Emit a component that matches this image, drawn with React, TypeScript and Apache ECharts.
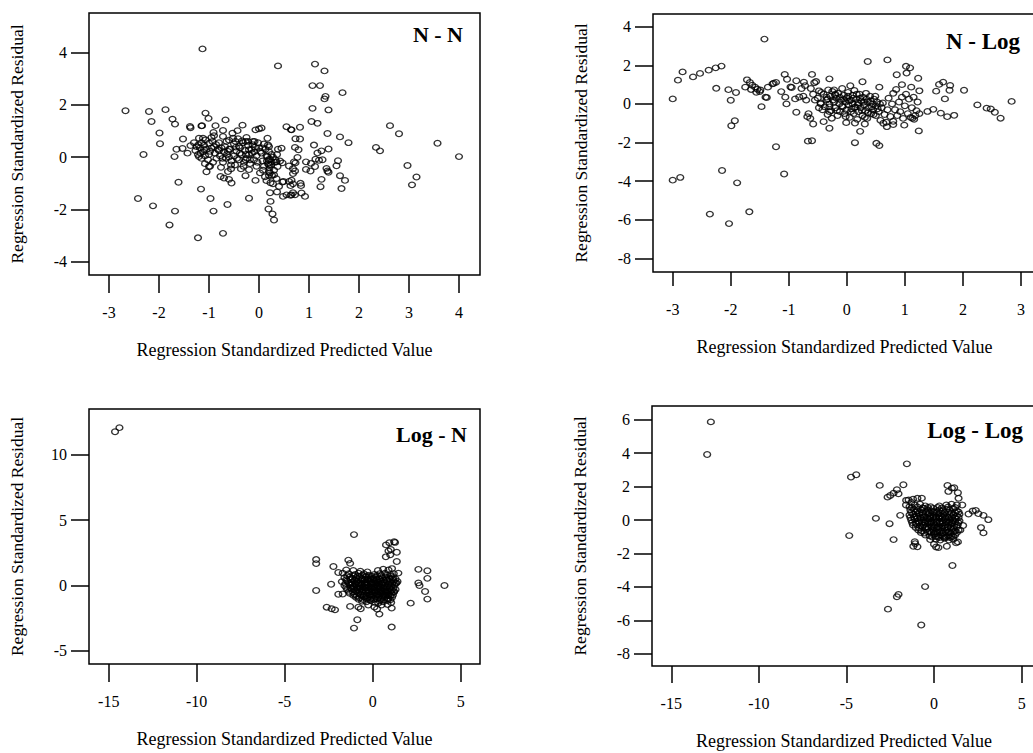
import React, { useEffect, useRef } from "react";
import * as echarts from "echarts";

const FONT = "'Liberation Serif', 'Times New Roman', serif";

const panelTitles = ["N - N", "N - Log", "Log - N", "Log - Log"];
const xName = "Regression Standardized Predicted Value";
const yName = "Regression Standardized Residual";

const xTicksNN = [-3, -2, -1, 0, 1, 2, 3, 4];
const yTicksNN = [-4, -2, 0, 2, 4];
const xTicksNLog = [-3, -2, -1, 0, 1, 2, 3];
const yTicksNLog = [-8, -6, -4, -2, 0, 2, 4];
const xTicksLogN = [-15, -10, -5, 0, 5];
const yTicksLogN = [-5, 0, 5, 10];
const xTicksLogLog = [-15, -10, -5, 0, 5];
const yTicksLogLog = [-8, -6, -4, -2, 0, 2, 4, 6];

const dataNN: number[][] = [
  [-2.67, 1.77], [-2.2, 1.74], [-2.15, 1.36], [-1.87, 1.81], [-1.73, 1.45], [-1.68, 1.26],
  [-1.99, 0.92], [-1.98, 0.51], [-2.31, 0.1], [-1.69, 0.02], [-1.65, 0.3], [-1.52, 0.69],
  [-1.53, 0.33], [-1.61, -0.96], [-2.42, -1.58], [-2.12, -1.86], [-1.68, -2.06], [-1.79, -2.59],
  [-1.22, -3.08], [-1.13, 4.13], [-1.38, 1.17], [-1.37, 1.12], [-1.37, 0.44], [-1.43, 0.15],
  [-1.15, 1.19], [-1.14, 1.2], [-1.07, 1.68], [-1.01, 1.48], [-0.87, 1.2], [-0.67, 1.42],
  [-0.91, 0.94], [-0.9, 0.82], [-1.2, 0.72], [-1.07, 0.66], [-1.21, 0.47], [-1.27, 0.25],
  [-1.17, 0.15], [-1.1, 0.28], [-1.0, 0.53], [-0.95, 0.35], [-1.02, -0.1], [-1.05, -0.56],
  [-1.0, -0.36], [-1.16, -1.22], [-0.97, -1.58], [-0.91, -2.06], [-0.63, -1.81], [-0.72, -2.91],
  [-0.76, -0.39], [-0.77, -0.74], [-0.7, -0.8], [-0.55, -0.99], [-0.56, -0.45], [-0.72, 0.79],
  [-0.72, 1.02], [-0.53, 0.91], [-0.43, 1.01], [-0.33, 1.22], [-0.47, 0.6], [-0.4, 0.41],
  [-0.6, 0.3], [-0.8, 0.25], [-0.27, 0.6], [-0.2, 0.28], [-0.07, 1.04], [0.0, 1.08],
  [0.05, 1.11], [-0.13, 0.47], [-0.09, 0.6], [0.07, 0.35], [-0.27, -0.1], [-0.2, -0.48],
  [-0.27, -0.71], [-0.07, -0.89], [-0.2, -1.57], [0.17, 0.72], [0.18, 0.46], [0.2, 0.21],
  [0.19, -0.1], [0.17, 0.02], [0.2, -0.3], [0.1, -0.35], [0.23, -0.98], [0.22, -0.6],
  [0.28, -1.02], [0.4, -1.12], [0.33, -0.1], [0.37, -0.36], [0.35, -0.18], [0.38, 0.3],
  [-1.3, 0.55], [-1.22, 0.1], [-1.18, 0.35], [-1.12, 0.2], [-1.2, 0.02], [-1.15, -0.05],
  [-1.1, 0.45], [-1.05, 0.3], [-1.0, 0.1], [-1.08, -0.25], [-0.98, -0.35], [-0.95, 0.75],
  [-0.93, 0.6], [-1.12, 0.72], [-0.9, 0.4], [-0.88, 0.15], [-0.85, -0.05], [-0.82, 0.3],
  [-0.8, 0.55], [-0.78, 0.05], [-0.72, -0.2], [-0.7, 0.2], [-0.68, 0.4], [-0.66, -0.05],
  [-0.64, 0.1], [-0.62, -0.55], [-0.6, 0.65], [-0.6, -0.85], [-0.58, 0.3], [-0.55, -0.15],
  [-0.5, 0.5], [-0.5, 0.05], [-0.48, -0.3], [-0.45, 0.22], [-0.42, 0.7], [-0.4, -0.1],
  [-0.38, 0.35], [-0.36, -0.45], [-0.35, 0.1], [-0.32, 0.55], [-0.3, -0.2], [-0.28, 0.25],
  [-0.25, 0.75], [-0.24, -0.05], [-0.22, 0.45], [-0.2, 0.1], [-0.18, -0.25], [-0.15, 0.3],
  [-0.12, 0.6], [-0.1, -0.1], [-0.1, 0.2], [-0.05, -0.35], [-0.05, 0.05], [0.0, 0.35],
  [0.02, -0.6], [0.05, 0.15], [0.07, -0.15], [0.1, 0.5], [0.12, -0.75], [0.15, 0.05],
  [0.18, -0.25], [0.2, -0.55], [0.2, 0.4], [0.22, -0.08], [0.24, -0.3], [0.25, 0.1],
  [0.26, -0.7], [0.28, 0.0], [0.3, -0.5], [0.32, -0.2], [0.35, -0.82], [0.36, 0.1],
  [-1.25, 0.4], [-1.15, 0.55], [-1.08, 0.05], [-0.98, 0.22], [-0.92, -0.2], [-0.86, 0.48],
  [-0.75, 0.35], [-0.73, -0.05], [-0.65, 0.6], [-0.62, 0.22], [-0.56, -0.3], [-0.52, 0.72],
  [-0.46, 0.38], [-0.44, -0.05], [-0.38, 0.15], [-0.34, 0.62], [-0.31, -0.35], [-0.26, 0.1],
  [-0.22, 0.6], [-0.18, -0.1], [-0.14, 0.15], [-0.08, 0.38], [-0.03, -0.2], [0.03, 0.22],
  [0.08, -0.5], [0.13, 0.3], [0.16, -0.15], [0.21, -0.42], [0.25, -0.18], [0.3, -0.68],
  [0.15, -0.9], [0.2, -0.7], [-0.02, 0.55], [-0.6, 0.0],
  [0.22, -1.36], [0.23, -1.69], [0.19, -1.98], [0.27, -2.17], [0.3, -2.4], [0.36, -1.33],
  [0.48, -1.5], [0.63, -1.46], [0.68, -1.36], [0.85, -1.37], [0.92, -1.5], [0.65, -1.44],
  [0.55, -1.44], [0.72, -1.44], [0.47, -0.95], [0.6, -0.34], [0.68, -0.44], [0.72, -0.53],
  [0.68, -0.63], [0.83, -1.0], [0.84, -1.09], [0.68, -1.02], [0.63, -1.09], [0.49, -0.93],
  [0.6, -0.93], [0.65, -0.88], [0.38, 3.48], [0.55, 1.16], [0.64, 1.05], [0.65, 1.04],
  [0.82, 1.14], [0.73, 0.7], [0.82, 0.69], [0.45, 0.34], [0.72, 0.37], [0.79, 0.28],
  [0.77, -0.01], [0.42, -0.15], [0.47, -0.22], [0.7, -0.18], [0.73, -0.22], [0.94, -0.18],
  [1.04, -0.24], [1.13, -0.08], [1.1, 0.46], [1.17, 0.16], [1.25, 0.24], [1.27, -0.1],
  [1.2, -0.12], [1.39, 0.31], [1.37, 0.9], [1.62, 0.77], [1.79, 0.55], [1.58, -0.14],
  [1.55, -0.33], [1.37, -0.53], [1.39, -0.58], [1.62, -0.71], [1.72, -0.89], [1.65, -1.2],
  [1.25, -0.85], [1.23, -1.13], [1.12, -0.36], [1.03, -0.53], [0.94, -0.47], [1.35, -0.43],
  [1.12, 3.55], [1.31, 3.29], [1.07, 2.73], [1.22, 2.73], [1.31, 2.22], [1.33, 2.32],
  [1.67, 2.46], [1.07, 1.86], [1.39, 1.8], [1.05, 1.36], [1.17, 1.29], [2.62, 1.2],
  [2.8, 0.89], [2.34, 0.37], [2.42, 0.24], [3.57, 0.53], [4.0, 0.02], [2.97, -0.32],
  [3.15, -0.76], [3.06, -1.06]
];

const dataNLog: number[][] = [
  [-3.0, 0.26], [-2.91, 1.23], [-2.83, 1.66], [-2.65, 1.4], [-2.53, 1.58], [-2.38, 1.75],
  [-2.26, 1.87], [-2.16, 1.96], [-2.25, 0.81], [-2.04, 0.74], [-2.0, 0.19], [-1.91, 0.59],
  [-1.99, -1.13], [-1.93, -0.87], [-3.0, -3.95], [-2.87, -3.81], [-2.15, -3.45], [-1.89, -4.09],
  [-2.36, -5.71], [-2.03, -6.2], [-1.68, -5.59], [-1.42, 3.36], [-1.22, -2.22], [-1.08, -3.63],
  [-1.47, -0.14], [-1.72, 1.25], [-1.67, 1.11], [-1.63, 0.97], [-1.58, 0.87], [-1.54, 0.76],
  [-1.5, 0.64], [-1.65, 0.75], [-1.56, 0.6], [-1.49, 0.72], [-1.4, 0.35], [-1.38, 0.33],
  [-1.75, 0.87], [-1.36, 0.87], [-1.28, 1.04], [-1.26, 1.07], [-1.22, 1.12], [-1.13, 0.64],
  [-1.07, 1.53], [-1.03, 1.28], [-1.06, 0.35], [-1.04, 0.0], [-0.97, 0.88], [-0.95, 0.85],
  [-0.87, 1.2], [-0.87, -0.43], [-0.89, 0.26], [-0.82, 0.36], [-0.78, 0.8], [-0.74, 1.13],
  [-0.72, 0.95], [-0.75, 0.4], [-0.7, 0.2], [-0.68, -0.66], [-0.66, -0.5], [-0.63, -0.75],
  [-0.67, -1.93], [-0.6, -1.91], [-0.6, 1.53], [-0.62, 0.8], [-0.56, 1.1], [-0.53, 1.16],
  [-0.58, 0.5], [-0.55, 0.2], [-0.58, -1.04], [-0.48, 0.68], [-0.45, 0.0], [-0.4, -0.92],
  [-0.32, 0.73], [-0.3, -1.26], [-0.26, -0.74], [-0.22, 0.73], [-0.2, 0.45], [-0.33, 0.25],
  [-0.3, 1.3], [-0.3, -0.4], [-0.5, 0.3], [-0.45, 0.05], [-0.42, -0.3], [-0.4, 0.5],
  [-0.38, -0.15], [-0.35, 0.2], [-0.33, -0.55], [-0.3, 0.0], [-0.28, 0.4], [-0.27, -0.35],
  [-0.25, 0.65], [-0.22, 0.1], [-0.2, -0.2], [-0.18, 0.3], [-0.16, -0.6], [-0.15, 0.55],
  [-0.13, 0.0], [-0.12, -0.4], [-0.1, 0.2], [-0.08, 0.8], [-0.07, -0.15], [-0.05, 0.45],
  [-0.04, -0.5], [-0.02, 0.1], [0.0, -0.3], [0.0, 0.3], [0.02, 0.6], [0.03, -0.05],
  [0.05, -0.7], [0.06, 0.94], [0.07, 0.2], [0.08, -0.25], [0.1, 0.45], [0.1, 0.0],
  [0.12, -0.5], [0.13, 0.7], [0.15, -0.15], [0.16, 0.25], [0.18, -0.8], [0.2, 0.05],
  [0.2, -0.4], [0.22, 0.5], [0.24, -0.2], [0.25, 0.15], [0.27, -0.6], [0.28, 0.35],
  [0.3, -0.05], [0.32, -0.35], [0.33, 0.55], [0.35, -0.75], [0.36, 0.1], [0.38, -0.2],
  [0.4, 0.4], [0.42, -0.5], [0.44, 0.0], [0.45, -0.3], [0.47, 0.25], [0.5, -0.6],
  [0.5, -0.1], [0.52, 0.1], [0.55, -0.4], [0.58, -0.85], [0.6, -0.2], [0.62, 0.05],
  [-0.35, 0.35], [-0.3, -0.15], [-0.24, 0.2], [-0.2, 0.5], [-0.17, -0.35], [-0.12, 0.35],
  [-0.08, -0.1], [-0.05, 0.25], [-0.02, -0.65], [0.02, 0.4], [0.04, 0.15], [0.07, -0.4],
  [0.11, 0.3], [0.13, -0.2], [0.17, 0.5], [0.19, -0.05], [0.23, 0.3], [0.26, -0.35],
  [0.29, 0.1], [0.31, -0.7], [0.34, 0.25], [0.37, -0.45], [0.41, 0.15], [0.43, -0.15],
  [0.46, -0.55], [0.49, 0.4], [0.53, -0.25], [0.57, 0.0], [-0.44, 0.6], [-0.48, -0.2],
  [0.65, -0.55], [0.68, -0.95], [0.7, -0.3], [0.72, 0.3], [0.75, -0.65], [0.78, 0.0],
  [0.8, -0.9], [0.8, 0.55], [0.83, -0.3], [0.85, 0.75], [0.87, -0.6], [0.9, 0.1],
  [0.92, -0.4], [0.95, 0.35], [0.97, -0.75], [1.0, -0.1], [1.02, 0.5], [1.05, -0.5],
  [1.07, 0.25], [1.1, -0.7], [1.12, -0.2], [1.15, 0.35], [1.18, -0.6], [1.2, -0.35],
  [1.22, 0.1], [1.25, -0.5], [-0.01, -0.97], [0.14, -2.01], [0.23, -1.42], [0.31, -1.04],
  [0.14, -0.99], [0.27, 1.15], [0.36, 2.2], [0.56, 0.87], [0.51, -2.04], [0.56, -2.16],
  [0.7, 2.28], [0.69, -1.18], [0.86, 1.51], [0.63, -1.0], [0.8, -1.07], [0.99, -1.1],
  [0.95, 1.0], [1.02, 1.95], [1.09, 1.87], [1.03, 1.6], [1.23, 1.33], [1.11, 0.87],
  [1.25, 0.68], [1.24, -1.4], [1.13, -0.74], [1.16, -0.8], [1.54, 0.66], [1.59, 1.01],
  [1.66, 1.13], [1.78, 0.96], [1.77, 0.71], [2.02, 0.71], [1.69, 0.26], [1.39, -0.39],
  [1.49, -0.28], [1.62, -0.48], [1.73, -0.66], [1.85, -0.59], [2.25, -0.05], [2.41, -0.22],
  [2.48, -0.26], [2.55, -0.43], [2.65, -0.74], [2.84, 0.13]
];

const dataLogN: number[][] = [
  [-14.64, 11.78], [-14.39, 12.09],
  [-3.21, 1.99], [-3.21, 1.68], [-3.21, -0.38], [-2.36, 0.1], [-2.23, 1.46], [-1.95, 1.0],
  [-2.61, -1.66], [-2.33, -1.78], [-2.14, -1.86], [-1.95, -0.67], [-1.7, -0.65], [-1.38, 1.95],
  [-1.28, 1.7], [-1.06, 3.9], [-1.28, -1.6], [-0.81, -1.65], [-0.68, -1.78], [-0.87, -2.62],
  [-1.06, -3.26], [1.08, -3.18], [0.38, -2.19], [1.08, -1.73], [0.1, -1.65], [0.25, -1.8],
  [0.32, -1.35], [0.76, 3.11], [0.95, 3.28], [1.22, 3.35], [1.27, 3.3], [0.9, 2.65],
  [1.03, 2.77], [1.37, 2.55], [0.75, 2.2], [1.0, 2.35], [1.37, 1.84], [1.46, 0.95],
  [1.41, 0.31], [2.6, 1.24], [3.11, 1.13], [3.11, 0.55], [2.6, 0.2], [2.66, 0.0],
  [2.98, -0.46], [3.11, -1.04], [2.16, -1.35], [4.08, 0.0],
  [-1.5, 1.2], [-1.1, 1.15], [-0.7, 1.1], [-0.3, 1.05], [0.3, 1.15], [0.6, 1.25], [0.9, 1.2], [1.1, 1.3],
  [-1.7, 0.95], [-1.35, 0.9], [-1.0, 0.85], [-0.8, 0.95], [-0.5, 0.9], [-0.2, 0.8], [0.1, 0.85],
  [0.4, 0.9], [0.7, 0.95], [1.0, 0.85], [1.2, 0.9],
  [-1.45, 0.75], [-1.1, 0.78], [-0.85, 0.72], [-0.6, 0.8], [-0.35, 0.75], [-0.05, 0.72],
  [0.25, 0.78], [0.5, 0.75], [0.8, 0.8], [1.05, 0.72],
  [-1.6, 0.6], [-1.3, 0.65], [-1.15, 0.55], [-0.95, 0.6], [-0.75, 0.7], [-0.6, 0.55], [-0.4, 0.65],
  [-0.25, 0.5], [-0.1, 0.6], [0.05, 0.55], [0.2, 0.65], [0.35, 0.5], [0.55, 0.6], [0.75, 0.65],
  [0.95, 0.55], [1.15, 0.6], [1.3, 0.5],
  [-1.5, 0.45], [-1.25, 0.48], [-1.0, 0.42], [-0.8, 0.45], [-0.6, 0.48], [-0.45, 0.42],
  [-0.3, 0.45], [-0.12, 0.48], [0.05, 0.42], [0.22, 0.45], [0.4, 0.48], [0.6, 0.42],
  [0.78, 0.45], [0.98, 0.48], [1.18, 0.42],
  [-1.75, 0.3], [-1.45, 0.35], [-1.2, 0.25], [-1.05, 0.35], [-0.9, 0.3], [-0.7, 0.2], [-0.55, 0.35],
  [-0.4, 0.25], [-0.3, 0.4], [-0.15, 0.3], [0.0, 0.2], [0.15, 0.35], [0.3, 0.25], [0.45, 0.3],
  [0.6, 0.2], [0.8, 0.35], [1.0, 0.25], [1.2, 0.3], [1.35, 0.2],
  [-1.55, 0.15], [-1.35, 0.18], [-1.15, 0.12], [-0.98, 0.15], [-0.82, 0.18], [-0.62, 0.12],
  [-0.45, 0.15], [-0.28, 0.18], [-0.1, 0.12], [0.08, 0.15], [0.2, 0.18], [0.38, 0.12],
  [0.52, 0.15], [0.7, 0.18], [0.9, 0.12], [1.12, 0.15], [1.3, 0.18],
  [-1.6, 0.0], [-1.3, 0.05], [-1.1, -0.05], [-0.95, 0.1], [-0.8, -0.05], [-0.65, 0.05], [-0.5, -0.1],
  [-0.35, 0.05], [-0.2, -0.05], [-0.05, 0.1], [0.1, -0.1], [0.25, 0.0], [0.4, -0.05], [0.55, 0.05],
  [0.7, -0.1], [0.85, 0.0], [1.05, -0.05], [1.25, 0.05],
  [-1.5, -0.15], [-1.25, -0.18], [-1.05, -0.12], [-0.9, -0.15], [-0.72, -0.18], [-0.58, -0.12],
  [-0.42, -0.15], [-0.28, -0.18], [-0.12, -0.12], [0.02, -0.15], [0.18, -0.18], [0.32, -0.12],
  [0.48, -0.15], [0.62, -0.18], [0.78, -0.12], [0.98, -0.15], [1.18, -0.18],
  [-1.45, -0.3], [-1.2, -0.25], [-1.0, -0.35], [-0.85, -0.3], [-0.7, -0.25], [-0.55, -0.35],
  [-0.4, -0.2], [-0.25, -0.35], [-0.1, -0.25], [0.05, -0.3], [0.2, -0.4], [0.35, -0.25],
  [0.5, -0.35], [0.65, -0.3], [0.8, -0.4], [0.95, -0.25], [1.1, -0.35], [1.3, -0.3],
  [-1.35, -0.45], [-1.12, -0.48], [-0.92, -0.42], [-0.75, -0.45], [-0.6, -0.48], [-0.38, -0.42],
  [-0.2, -0.45], [-0.05, -0.48], [0.12, -0.42], [0.28, -0.45], [0.42, -0.48], [0.58, -0.42],
  [0.72, -0.45], [0.88, -0.48], [1.02, -0.42], [1.22, -0.45],
  [-1.3, -0.6], [-1.05, -0.65], [-0.85, -0.55], [-0.65, -0.7], [-0.45, -0.6], [-0.3, -0.55],
  [-0.15, -0.7], [0.0, -0.6], [0.15, -0.55], [0.3, -0.7], [0.45, -0.6], [0.6, -0.65],
  [0.75, -0.55], [0.9, -0.7], [1.05, -0.6], [1.2, -0.5],
  [-1.1, -0.75], [-0.9, -0.78], [-0.7, -0.72], [-0.5, -0.75], [-0.35, -0.78], [-0.2, -0.72],
  [-0.05, -0.75], [0.1, -0.78], [0.25, -0.72], [0.4, -0.75], [0.55, -0.78], [0.7, -0.72],
  [0.85, -0.75], [1.0, -0.78], [1.15, -0.72],
  [-0.95, -0.9], [-0.75, -0.95], [-0.5, -0.85], [-0.3, -0.95], [-0.1, -0.9], [0.1, -1.0],
  [0.3, -0.9], [0.5, -0.95], [0.7, -0.85], [0.9, -1.0], [1.1, -0.9],
  [-0.8, -1.05], [-0.55, -1.08], [-0.35, -1.02], [-0.15, -1.05], [0.05, -1.08], [0.25, -1.02],
  [0.45, -1.05], [0.65, -1.08], [0.85, -1.02], [1.0, -1.1],
  [-0.6, -1.2], [-0.35, -1.25], [-0.1, -1.15], [0.15, -1.3], [0.4, -1.2], [0.6, -1.25],
  [0.85, -1.15], [1.05, -1.3], [-0.25, -1.5], [0.5, -1.5], [0.85, -1.45]
];

const dataLogLog: number[][] = [
  [-12.74, 5.87], [-12.95, 3.92], [-4.74, 2.57], [-4.44, 2.71], [-4.84, -0.93], [-3.32, 0.1],
  [-3.1, 2.07], [-2.54, -0.22], [-2.31, -1.17], [-2.65, 1.37], [-2.5, 1.47], [-2.31, 1.61],
  [-2.12, 1.81], [-2.03, 1.57], [-1.75, 2.11], [-1.59, 1.18], [-1.55, 3.36], [-1.93, 0.28],
  [-1.08, -1.41], [-0.95, -1.6], [-1.18, -1.57], [-1.1, -1.3], [-0.51, -3.98], [-2.12, -4.59],
  [-2.03, -4.45], [-2.63, -5.33], [-0.73, -6.28], [1.05, -2.72], [0.73, -1.57], [-0.22, -1.17],
  [0.0, -1.45], [0.12, -1.61], [0.25, -1.65], [0.77, 2.07], [1.02, 1.91], [1.15, 1.93],
  [0.82, 1.71], [1.36, 1.63], [1.4, 1.3], [1.61, 0.9], [1.97, 0.36], [2.21, 0.54],
  [2.38, 0.58], [2.53, 0.38], [2.82, 0.28], [3.1, 0.02], [2.68, -0.45], [2.82, -0.77],
  [1.26, -1.37], [1.36, -1.31], [1.66, -0.33], [1.5, -0.6], [-1.3, 1.05], [-1.4, 0.8],
  [-0.7, 1.31], [-1.6, 0.9], [-1.45, 1.2], [-1.2, 1.25], [-0.95, 1.3],
  [-1.1, 0.9], [-0.8, 0.95], [-0.5, 0.85], [-0.2, 0.8], [0.3, 0.85], [0.7, 0.9], [1.0, 0.95], [1.3, 0.9],
  [-1.25, 0.75], [-0.95, 0.78], [-0.65, 0.72], [-0.35, 0.75], [-0.05, 0.7], [0.2, 0.75],
  [0.45, 0.72], [0.8, 0.78], [1.2, 0.75],
  [-1.35, 0.6], [-1.15, 0.65], [-0.95, 0.55], [-0.75, 0.6], [-0.55, 0.7], [-0.35, 0.6], [-0.15, 0.55],
  [0.05, 0.5], [0.3, 0.6], [0.5, 0.55], [0.7, 0.65], [0.9, 0.6], [1.1, 0.7], [1.3, 0.55],
  [-1.3, 0.45], [-1.05, 0.48], [-0.85, 0.42], [-0.65, 0.45], [-0.45, 0.48], [-0.25, 0.42],
  [-0.05, 0.45], [0.15, 0.48], [0.35, 0.42], [0.6, 0.45], [0.8, 0.48], [1.0, 0.42],
  [1.2, 0.45], [1.4, 0.48],
  [-1.4, 0.3], [-1.2, 0.35], [-1.0, 0.25], [-0.85, 0.35], [-0.65, 0.3], [-0.5, 0.2], [-0.35, 0.35],
  [-0.2, 0.25], [-0.05, 0.3], [0.1, 0.2], [0.25, 0.35], [0.4, 0.25], [0.55, 0.3], [0.75, 0.2],
  [0.9, 0.35], [1.1, 0.3], [1.3, 0.25], [1.45, 0.35],
  [-1.35, 0.15], [-1.15, 0.18], [-0.95, 0.12], [-0.78, 0.15], [-0.58, 0.18], [-0.4, 0.12],
  [-0.22, 0.15], [-0.05, 0.18], [0.12, 0.12], [0.3, 0.15], [0.48, 0.18], [0.65, 0.12],
  [0.85, 0.15], [1.02, 0.18], [1.2, 0.12], [1.4, 0.15],
  [-1.3, 0.0], [-1.1, 0.05], [-0.9, -0.05], [-0.75, 0.1], [-0.6, 0.0], [-0.45, -0.05], [-0.3, 0.05],
  [-0.15, -0.1], [0.0, 0.05], [0.15, -0.05], [0.3, 0.1], [0.45, -0.05], [0.6, 0.05], [0.75, -0.1],
  [0.9, 0.0], [1.05, -0.05], [1.25, 0.05], [1.45, -0.05],
  [-1.25, -0.15], [-1.05, -0.18], [-0.85, -0.12], [-0.68, -0.15], [-0.5, -0.18], [-0.35, -0.12],
  [-0.2, -0.15], [-0.02, -0.18], [0.15, -0.12], [0.32, -0.15], [0.5, -0.18], [0.68, -0.12],
  [0.85, -0.15], [1.02, -0.18], [1.2, -0.12], [1.38, -0.15],
  [-1.2, -0.3], [-1.0, -0.25], [-0.8, -0.35], [-0.6, -0.3], [-0.4, -0.4], [-0.25, -0.25],
  [-0.1, -0.35], [0.05, -0.3], [0.2, -0.4], [0.35, -0.25], [0.5, -0.35], [0.65, -0.3],
  [0.8, -0.4], [0.95, -0.25], [1.15, -0.35], [1.35, -0.3],
  [-1.05, -0.45], [-0.85, -0.48], [-0.65, -0.42], [-0.5, -0.45], [-0.32, -0.48], [-0.15, -0.42],
  [0.0, -0.45], [0.15, -0.48], [0.3, -0.42], [0.45, -0.45], [0.6, -0.48], [0.78, -0.42],
  [0.95, -0.45], [1.1, -0.48], [1.3, -0.42],
  [-0.9, -0.6], [-0.7, -0.65], [-0.45, -0.55], [-0.25, -0.7], [-0.05, -0.6], [0.1, -0.7],
  [0.25, -0.55], [0.4, -0.65], [0.55, -0.75], [0.7, -0.6], [0.85, -0.7], [1.0, -0.55],
  [1.2, -0.65], [1.4, -0.6],
  [-0.75, -0.75], [-0.55, -0.78], [-0.35, -0.72], [-0.15, -0.75], [0.0, -0.78], [0.18, -0.72],
  [0.32, -0.75], [0.48, -0.78], [0.65, -0.72], [0.8, -0.75], [0.95, -0.78], [1.1, -0.72],
  [1.3, -0.75],
  [-0.5, -0.9], [-0.25, -0.95], [0.0, -0.85], [0.2, -1.0], [0.4, -0.9], [0.6, -1.05],
  [0.8, -0.95], [1.0, -1.0], [1.2, -0.9],
  [-0.1, -1.02], [0.1, -0.98], [0.3, -1.05], [0.5, -0.98], [0.7, -1.02], [0.9, -1.05], [1.1, -0.98],
  [0.1, -1.15], [0.35, -1.2], [0.6, -1.1], [0.85, -1.2], [1.1, -1.15]
];

type Panel = {
  title: string;
  data: number[][];
  xMin: number; xMax: number; yMin: number; yMax: number;
  xTicks: number[]; yTicks: number[];
  left: number; top: number; width: number; height: number;
  titleX: number; titleY: number; titleSize: number;
  xTickLen: number;
};

const panels: Panel[] = [
  { title: panelTitles[0], data: dataNN, xMin: -3.4, xMax: 4.42, yMin: -4.5, yMax: 5.5,
    xTicks: xTicksNN, yTicks: yTicksNN, left: 89, top: 13, width: 391, height: 262,
    titleX: 463, titleY: 34, titleSize: 22, xTickLen: 18 },
  { title: panelTitles[1], data: dataNLog, xMin: -3.34, xMax: 3.26, yMin: -8.71, yMax: 4.66,
    xTicks: xTicksNLog, yTicks: yTicksNLog, left: 653, top: 14, width: 383, height: 258,
    titleX: 1020, titleY: 41, titleSize: 23, xTickLen: 14 },
  { title: panelTitles[2], data: dataLogN, xMin: -16.12, xMax: 6.1, yMin: -6.01, yMax: 13.52,
    xTicks: xTicksLogN, yTicks: yTicksLogN, left: 89, top: 409, width: 391, height: 255,
    titleX: 467, titleY: 434, titleSize: 22, xTickLen: 18 },
  { title: panelTitles[3], data: dataLogLog, xMin: -16.1, xMax: 5.82, yMin: -8.73, yMax: 6.82,
    xTicks: xTicksLogLog, yTicks: yTicksLogLog, left: 652, top: 406, width: 384, height: 260,
    titleX: 1023, titleY: 430, titleSize: 23, xTickLen: 17 },
];

export default function App() {
  const ref = useRef<HTMLDivElement>(null);
  useEffect(() => {
    document.body.style.margin = "0";
    if (!ref.current) return;
    const chart = echarts.init(ref.current, null, { renderer: "svg" });
    const labelStyle = { fontFamily: FONT, fontSize: 16, color: "#000" };
    const nameStyle = { fontFamily: FONT, fontSize: 18, color: "#000" };
    const tickLine = { color: "#000", width: 1.5 };
    chart.setOption({
      animation: false,
      backgroundColor: "#fff",
      grid: panels.map((p) => ({
        left: p.left, top: p.top, width: p.width, height: p.height,
        show: true, borderColor: "#000", borderWidth: 1.5, backgroundColor: "transparent",
        containLabel: false, outerBoundsMode: "none",
      })),
      xAxis: panels.map((p, i) => ({
        gridIndex: i, type: "value", min: p.xMin, max: p.xMax,
        axisLine: { show: false, onZero: false }, splitLine: { show: false },
        axisTick: { show: true, length: p.xTickLen, customValues: p.xTicks, lineStyle: tickLine },
        axisLabel: { ...labelStyle, customValues: p.xTicks, margin: 29 },
        name: xName, nameLocation: "middle", nameGap: 66, nameTextStyle: nameStyle,
      })),
      yAxis: panels.map((p, i) => ({
        gridIndex: i, type: "value", min: p.yMin, max: p.yMax,
        axisLine: { show: false, onZero: false }, splitLine: { show: false },
        axisTick: { show: true, length: 18, customValues: p.yTicks, lineStyle: tickLine },
        axisLabel: { ...labelStyle, customValues: p.yTicks, margin: 22 },
        name: yName, nameLocation: "middle", nameGap: 63,
        nameTextStyle: { ...nameStyle, fontSize: 17.5 },
      })),
      series: panels.map((p, i) => ({
        type: "scatter", xAxisIndex: i, yAxisIndex: i, data: p.data,
        symbol: "circle", symbolSize: [6.8, 5.6], silent: true,
        itemStyle: { color: "rgba(0,0,0,0)", borderColor: "#000", borderWidth: 1.3 },
        emphasis: { disabled: true },
      })),
      graphic: panels.map((p) => ({
        type: "text", x: p.titleX, y: p.titleY, silent: true,
        style: {
          text: p.title, fill: "#000", align: "right", verticalAlign: "middle",
          font: `bold ${p.titleSize}px ${FONT}`,
        },
      })),
    });
    return () => chart.dispose();
  }, []);
  return <div ref={ref} style={{ width: 1033, height: 753 }} />;
}
